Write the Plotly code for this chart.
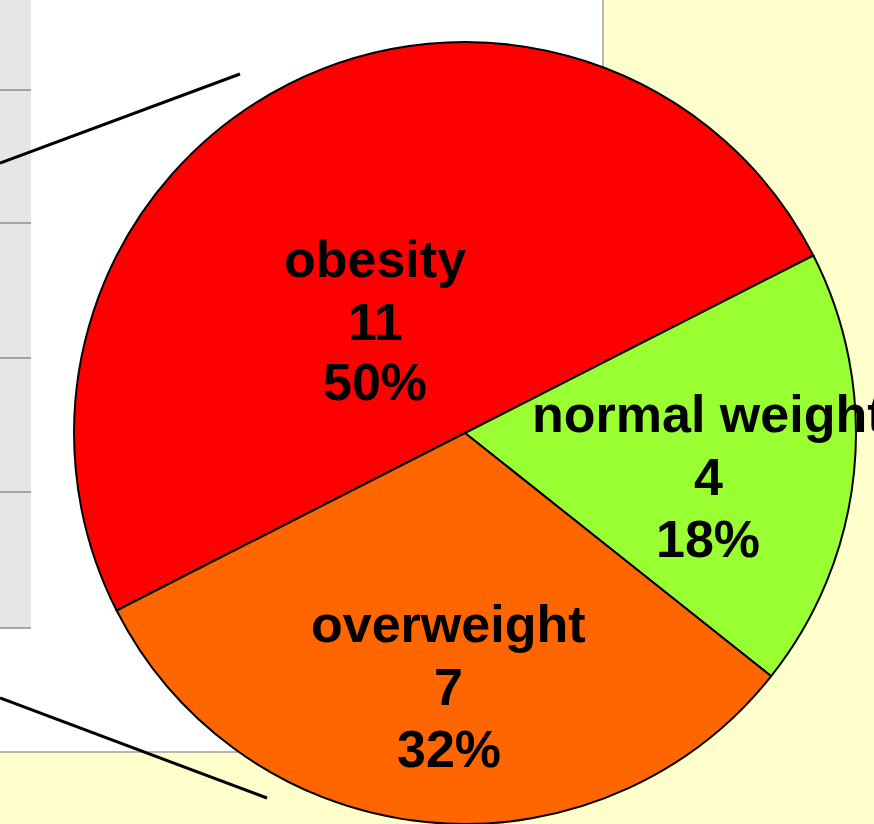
import plotly.graph_objects as go

# ---- data ----
categories = ["obesity", "normal weight", "overweight"]
counts = [11, 4, 7]
slice_colors = ["#FF0000", "#99FF33", "#FF6600"]

W, H = 874, 824
total = sum(counts)
percents = [round(100 * c / total) for c in counts]

def px(x):
    return x / W

def py(y):
    return 1 - y / H

# pie placement (pixels): center and radius
cx, cy, r = 465, 433, 391

fig = go.Figure()
fig.add_trace(go.Pie(
    labels=categories,
    values=counts,
    sort=False,
    direction="clockwise",
    rotation=-117,
    marker=dict(colors=slice_colors, line=dict(color="#000000", width=2)),
    textinfo="none",
    hoverinfo="label+value+percent",
    showlegend=False,
    domain=dict(x=[px(cx - r), px(cx + r)], y=[py(cy + r), py(cy - r)]),
))

# label placement (pixels): centre x and middle y of each of the three lines
label_pos = [
    (375, [259, 322, 382]),
    (708, [414, 477, 539]),
    (449, [624, 687, 749]),
]
annotations = []
for cat, cnt, pct, (lx, lys) in zip(categories, counts, percents, label_pos):
    for txt, ly in zip([cat, str(cnt), f"{pct}%"], lys):
        annotations.append(dict(
            x=px(lx), y=py(ly), xref="paper", yref="paper",
            xanchor="center", yanchor="middle", showarrow=False,
            text=f"<b>{txt}</b>",
            font=dict(family="Liberation Sans, Arial, sans-serif", size=52, color="#000000"),
        ))

shapes = []
# white panel behind the pie
shapes.append(dict(type="rect", xref="paper", yref="paper", layer="below",
                   x0=px(-5), x1=px(603), y0=py(752), y1=py(-5),
                   fillcolor="#FFFFFF", line=dict(color="#A0A0A0", width=1.5)))
# grey column at left
shapes.append(dict(type="rect", xref="paper", yref="paper", layer="below",
                   x0=px(-5), x1=px(31), y0=py(628), y1=py(-5),
                   fillcolor="#E6E6E6", line=dict(width=0)))
for sy in [90, 223, 358, 492, 628]:
    shapes.append(dict(type="line", xref="paper", yref="paper", layer="below",
                       x0=px(0), x1=px(31), y0=py(sy), y1=py(sy),
                       line=dict(color="#8C8C8C", width=1.5)))
# connector lines
shapes.append(dict(type="line", xref="paper", yref="paper", layer="below",
                   x0=px(0), y0=py(163), x1=px(240), y1=py(74),
                   line=dict(color="#000000", width=3)))
shapes.append(dict(type="line", xref="paper", yref="paper", layer="below",
                   x0=px(0), y0=py(698), x1=px(267), y1=py(798),
                   line=dict(color="#000000", width=3)))

fig.update_layout(
    width=W, height=H,
    margin=dict(l=0, r=0, t=0, b=0),
    paper_bgcolor="#FFFFCC",
    plot_bgcolor="#FFFFCC",
    shapes=shapes,
    annotations=annotations,
)

fig.write_html(
    "out.html",
    config={"displayModeBar": False},
    post_script="document.body.style.margin='0px';document.body.style.overflow='hidden';",
)
